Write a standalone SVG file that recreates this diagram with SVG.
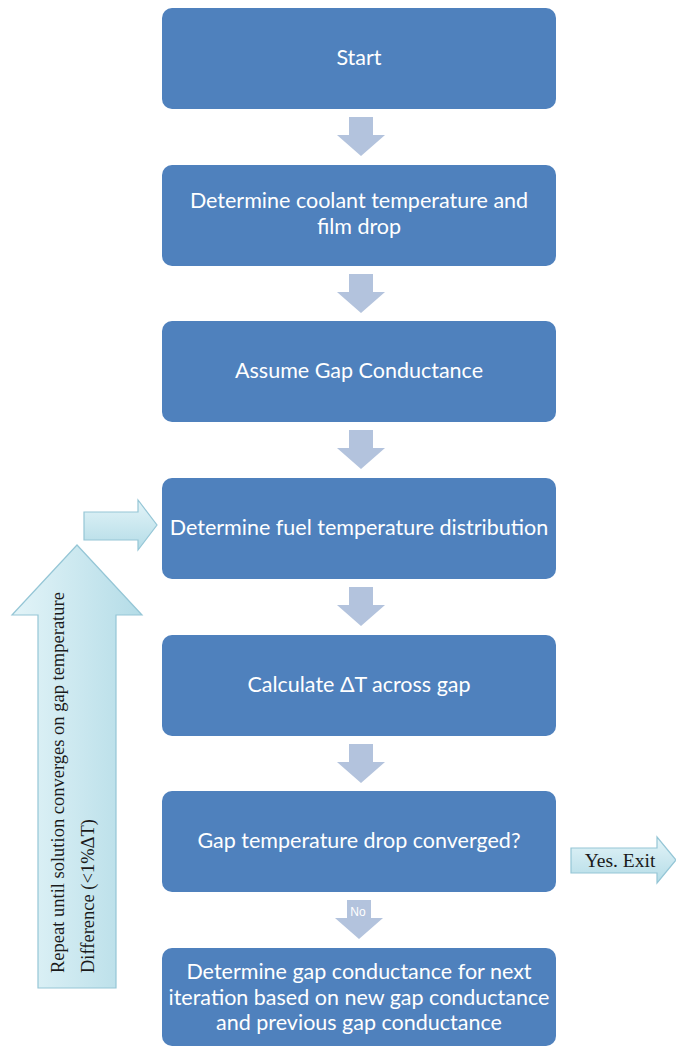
<svg xmlns="http://www.w3.org/2000/svg" width="676" height="1048" viewBox="0 0 676 1048">
<defs>
<linearGradient id="cyan" x1="0" y1="0" x2="1" y2="0">
<stop offset="0" stop-color="#E3F4F8"/>
<stop offset="1" stop-color="#B4DCE7"/>
</linearGradient>
<linearGradient id="cyanV" x1="0" y1="0" x2="0" y2="1">
<stop offset="0" stop-color="#E3F4F8"/>
<stop offset="1" stop-color="#B4DCE7"/>
</linearGradient>
<path id="down" d="M-12,0 H12 V18 H24 L0,39 L-24,18 H-12 Z"/>
</defs>
<style>
.box{fill:#4F81BD;}
.t{font-family:Lato,"Open Sans",sans-serif;font-size:21.5px;fill:#FFFFFF;text-anchor:middle;}
.s{font-family:"Liberation Serif",serif;font-size:18.5px;fill:#1a1a1a;}
.dn{fill:#B3C3DD;}
.cy{stroke:#95C6D6;stroke-width:1.2;}
</style>
<rect width="676" height="1048" fill="#FFFFFF"/>
<g id="connectors">
<use href="#down" class="dn" x="361" y="117"/>
<use href="#down" class="dn" x="361" y="274"/>
<use href="#down" class="dn" x="361" y="430"/>
<use href="#down" class="dn" x="361" y="587"/>
<use href="#down" class="dn" x="361" y="744"/>
<g id="no-arrow">
<use href="#down" class="dn" x="359" y="900"/>
<text x="358" y="916" style="font-family:'Liberation Sans',sans-serif;font-size:12px;fill:#FFFFFF;text-anchor:middle">No</text>
</g>
<g id="loop-arrow">
<path class="cy" fill="url(#cyan)" d="M38,988 V615 H12 L77,545 L142,615 H116 V988 Z"/>
<text class="s" transform="translate(64,973) rotate(-90)">Repeat until solution converges on gap temperature</text>
<text class="s" transform="translate(94,973) rotate(-90)">Difference (&lt;1%ΔT)</text>
</g>
<path id="entry-arrow" class="cy" fill="url(#cyanV)" d="M84,512 H138 V500 L157,525 L138,550 V540 H84 Z"/>
<g id="exit-arrow">
<path class="cy" fill="url(#cyanV)" d="M571,848 H657 V837 L676,860 L657,883 V873 H571 Z"/>
<text class="s" x="620" y="867" text-anchor="middle" style="font-size:19.5px">Yes. Exit</text>
</g>
</g>
<g id="n1"><rect class="box" x="162" y="8" width="394" height="101" rx="10"/><text class="t" x="359" y="65">Start</text></g>
<g id="n2"><rect class="box" x="162" y="165" width="394" height="101" rx="10"/><text class="t" x="359" y="208">Determine coolant temperature and</text><text class="t" x="359" y="234">film drop</text></g>
<g id="n3"><rect class="box" x="162" y="321" width="394" height="101" rx="10"/><text class="t" x="359" y="378">Assume Gap Conductance</text></g>
<g id="n4"><rect class="box" x="162" y="478" width="394" height="101" rx="10"/><text class="t" x="359" y="535">Determine fuel temperature distribution</text></g>
<g id="n5"><rect class="box" x="162" y="635" width="394" height="101" rx="10"/><text class="t" x="359" y="692">Calculate ΔT across gap</text></g>
<g id="n6"><rect class="box" x="162" y="791" width="394" height="101" rx="10"/><text class="t" x="359" y="848">Gap temperature drop converged?</text></g>
<g id="n7"><rect class="box" x="162" y="948" width="394" height="98" rx="10"/><text class="t" x="359" y="979">Determine gap conductance for next</text><text class="t" x="359" y="1005">iteration based on new gap conductance</text><text class="t" x="359" y="1030">and previous gap conductance</text></g>
</svg>
